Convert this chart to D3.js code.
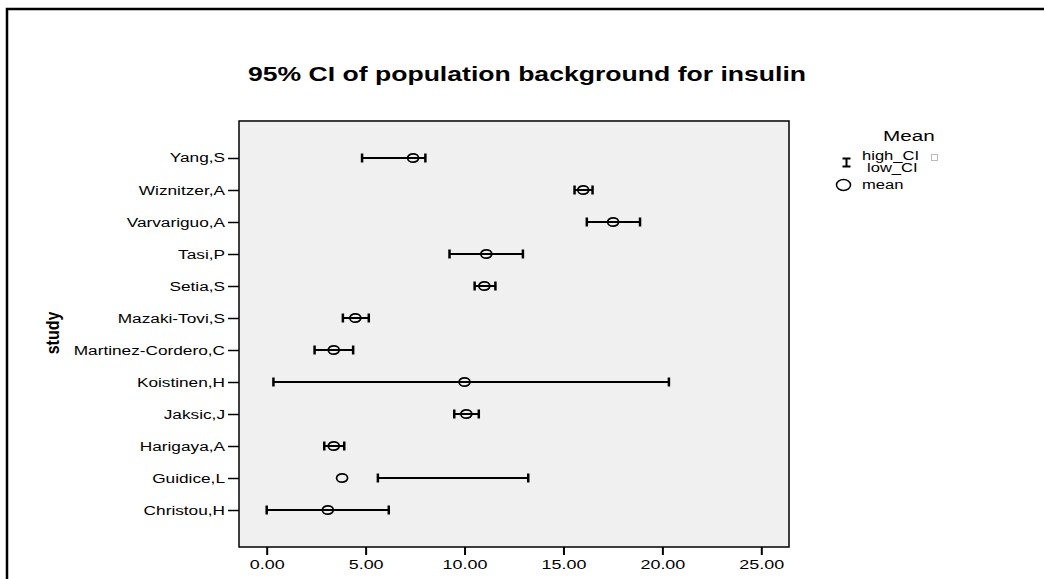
<!DOCTYPE html>
<html>
<head>
<meta charset="utf-8">
<script src="https://cdn.jsdelivr.net/npm/d3@7"></script>
<style>
  body { margin: 0; background: #fff; }
  svg { display: block; font-family: "Liberation Sans", Arial, sans-serif; }
</style>
</head>
<body>
<svg id="chart"></svg>
<script>
// studies, top to bottom as drawn
const studies = ["Yang,S", "Wiznitzer,A", "Varvariguo,A", "Tasi,P", "Setia,S", "Mazaki-Tovi,S",
  "Martinez-Cordero,C", "Koistinen,H", "Jaksic,J", "Harigaya,A", "Guidice,L", "Christou,H"];
const meanValues = [7.40, 16.00, 17.51, 11.10, 11.00, 4.48, 3.39, 10.00, 10.09, 3.39, 3.81, 3.09];
const lowCI = [4.82, 15.56, 16.18, 9.24, 10.51, 3.85, 2.42, 0.34, 9.48, 2.91, 5.62, 0.00];
const highCI = [8.02, 16.47, 18.87, 12.95, 11.56, 5.16, 4.37, 20.33, 10.72, 3.92, 13.22, 6.17];
const xTicks = [0, 5, 10, 15, 20, 25];

class CIChart {

  constructor(_config, _data) {
    this.config = {
      parentElement: _config.parentElement,
      containerWidth: _config.containerWidth || 1044,
      containerHeight: _config.containerHeight || 579,
      margin: _config.margin || {top: 121, right: 255, bottom: 32, left: 239}
    }
    this.data = _data;
    this.initVis();
  }

  initVis() {
    let vis = this;

    vis.width = vis.config.containerWidth - vis.config.margin.left - vis.config.margin.right;
    vis.height = vis.config.containerHeight - vis.config.margin.top - vis.config.margin.bottom;

    // the original picture is stretched sideways, so the text is too
    vis.sx = 1.38;

    vis.xScale = d3.scaleLinear()
        .domain([-1.4, 26.4])
        .range([0, vis.width]);

    vis.yScale = d3.scalePoint()
        .domain(vis.data.map(d => d.study))
        .range([0, vis.height])
        .padding(1.156);

    vis.svg = d3.select(vis.config.parentElement)
        .attr('width', vis.config.containerWidth)
        .attr('height', vis.config.containerHeight);

    // outer frame (top and left edges only are visible)
    vis.svg.append('path')
        .attr('d', 'M7,579V9H1044')
        .attr('fill', 'none')
        .attr('stroke', '#000')
        .attr('stroke-width', 2.5);

    vis.svg.append('text')
        .attr('transform', `translate(527,81) scale(1.33,1)`)
        .attr('text-anchor', 'middle')
        .attr('font-size', '20px')
        .attr('font-weight', 'bold')
        .text('95% CI of population background for insulin');

    vis.chart = vis.svg.append('g')
        .attr('transform', `translate(${vis.config.margin.left},${vis.config.margin.top})`);

    vis.chart.append('rect')
        .attr('width', vis.width)
        .attr('height', vis.height)
        .attr('fill', '#f0f0f0');

    vis.xAxis = d3.axisBottom(vis.xScale)
        .tickValues(xTicks)
        .tickFormat(d3.format('.2f'))
        .tickSize(8)
        .tickPadding(4.5);

    vis.yAxis = d3.axisLeft(vis.yScale)
        .tickSize(11);

    vis.xAxisG = vis.chart.append('g')
        .attr('class', 'axis x-axis')
        .attr('transform', `translate(0,${vis.height})`);

    vis.yAxisG = vis.chart.append('g')
        .attr('class', 'axis y-axis');

    vis.chart.append('rect')
        .attr('width', vis.width)
        .attr('height', vis.height)
        .attr('fill', 'none')
        .attr('stroke', '#000')
        .attr('stroke-width', 1.5);

    vis.svg.append('text')
        .attr('transform', 'translate(59,333) scale(1.12,1) rotate(-90)')
        .attr('text-anchor', 'middle')
        .attr('font-size', '16px')
        .attr('font-weight', 'bold')
        .text('study');

    // legend
    let leg = vis.svg.append('g');
    leg.append('text')
        .attr('transform', `translate(883,141) scale(${vis.sx},1)`)
        .attr('font-size', '15px')
        .text('Mean');
    leg.append('path')
        .attr('d', 'M842.5,158.5H850.5M846.5,158.5V166.5M842.5,166.5H850.5')
        .attr('fill', 'none')
        .attr('stroke', '#000')
        .attr('stroke-width', 2);
    leg.append('text')
        .attr('transform', `translate(862,160) scale(${vis.sx},1)`)
        .attr('font-size', '12px')
        .text('high_CI');
    leg.append('rect')
        .attr('x', 931.5).attr('y', 154.5)
        .attr('width', 6).attr('height', 6)
        .attr('fill', '#fff')
        .attr('stroke', '#bbb');
    leg.append('text')
        .attr('transform', `translate(867,172) scale(${vis.sx},1)`)
        .attr('font-size', '12px')
        .text('low_CI');
    leg.append('ellipse')
        .attr('cx', 843.5).attr('cy', 185)
        .attr('rx', 7).attr('ry', 5.5)
        .attr('fill', 'none')
        .attr('stroke', '#000')
        .attr('stroke-width', 1.5);
    leg.append('text')
        .attr('transform', `translate(862,189) scale(${vis.sx},1)`)
        .attr('font-size', '12px')
        .text('mean');

    vis.updateVis();
  }

  updateVis() {
    let vis = this;

    vis.xAxisG.call(vis.xAxis);
    vis.xAxisG.select('.domain').remove();
    vis.xAxisG.selectAll('line').attr('stroke-width', 2);
    vis.xAxisG.selectAll('text')
        .attr('font-size', '13px')
        .attr('fill', '#000')
        .attr('transform', `scale(${vis.sx},1)`);

    vis.yAxisG.call(vis.yAxis);
    vis.yAxisG.select('.domain').remove();
    vis.yAxisG.selectAll('line').attr('stroke-width', 1.5);
    vis.yAxisG.selectAll('text')
        .attr('font-size', '12.5px')
        .attr('fill', '#000')
        .attr('x', -14 / vis.sx)
        .attr('transform', `scale(${vis.sx},1)`);

    let rows = vis.chart.selectAll('.row')
        .data(vis.data)
        .join('g')
        .attr('class', 'row')
        .attr('transform', d => `translate(0,${vis.yScale(d.study)})`);

    rows.append('line')
        .attr('x1', d => vis.xScale(d.low))
        .attr('x2', d => vis.xScale(d.high))
        .attr('stroke', '#000')
        .attr('stroke-width', 2);

    rows.selectAll('.cap')
        .data(d => [d.low, d.high])
        .join('line')
        .attr('class', 'cap')
        .attr('x1', v => vis.xScale(v))
        .attr('x2', v => vis.xScale(v))
        .attr('y1', -4.5)
        .attr('y2', 4.5)
        .attr('stroke', '#000')
        .attr('stroke-width', 2.5);

    rows.append('ellipse')
        .attr('cx', d => vis.xScale(d.mean))
        .attr('rx', 5.5)
        .attr('ry', 4.2)
        .attr('fill', 'none')
        .attr('stroke', '#000')
        .attr('stroke-width', 1.7);
  }
}

const data = studies.map((s, i) => ({study: s, mean: meanValues[i], low: lowCI[i], high: highCI[i]}));

new CIChart({parentElement: '#chart'}, data);
</script>
</body>
</html>
